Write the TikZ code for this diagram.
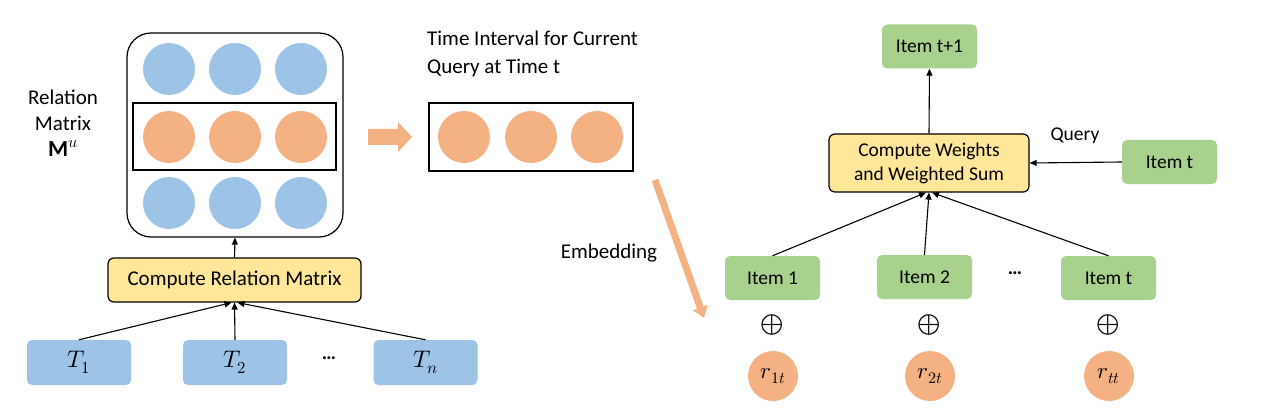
\documentclass[tikz,border=0pt]{standalone}
\usepackage{amsmath}
\usepackage{unicode-math}
\setmainfont{Carlito}
\setmathfont{Latin Modern Math}
\usetikzlibrary{arrows.meta,positioning}
\definecolor{cblue}{HTML}{9DC3E6}
\definecolor{corange}{HTML}{F4B183}
\definecolor{cgreen}{HTML}{A9D18E}
\definecolor{cyellow}{HTML}{FFE699}
\tikzset{
  txt/.style={font=\fontsize{21}{25}\selectfont, inner sep=0pt},
  bcirc/.style={circle, fill=cblue, minimum size=52pt, inner sep=0pt},
  ocirc/.style={circle, fill=corange, minimum size=52pt, inner sep=0pt},
  tbox/.style={rectangle, rounded corners=5pt, fill=cblue, minimum width=104pt, minimum height=45pt, inner sep=0pt, font=\fontsize{24}{26}\selectfont},
  gbox/.style={rectangle, rounded corners=5pt, fill=cgreen, minimum width=95pt, minimum height=44pt, inner sep=0pt, font=\fontsize{19.5}{23}\selectfont},
  ybox/.style={rectangle, rounded corners=6pt, draw=black, line width=1.2pt, fill=cyellow, inner sep=0pt, align=center},
  rcirc/.style={circle, fill=corange, minimum size=50pt, inner sep=0pt, font=\fontsize{23}{26}\selectfont},
  dots/.style={inner sep=0pt, font=\fontsize{20}{22}\selectfont\bfseries},
  conn/.style={line width=1.1pt, -{Triangle[length=7pt,width=6pt]}},
}
\begin{document}
\begin{tikzpicture}[x=1pt,y=-1pt]
\useasboundingbox (0,0) rectangle (1266,417);
% relation matrix
\node[draw=black, line width=1.2pt, rounded corners=24pt, minimum width=216pt, minimum height=204pt, inner sep=0pt] (mat) at (235,135) {};
\node[draw=black, line width=1.2pt, minimum width=203pt, minimum height=67pt, inner sep=0pt] (row) at (234.5,136.5) {};
\foreach \x/\n in {169/a,235/b,301/c}{
  \node[bcirc] (t\n) at (\x,69) {};
  \node[ocirc] (m\n) at (\x,137) {};
  \node[bcirc] (b\n) at (\x,203) {};
}
\node[txt, align=center] (rlab) at (63,123) {Relation\\[1pt]Matrix\\[1pt]{\fontsize{23}{25}\selectfont$\mathbf{M}^{u}$}};
% compute relation matrix
\node[ybox, minimum width=253pt, minimum height=44pt, font=\fontsize{21}{25}\selectfont] (crm) at (234.5,280) {Compute Relation Matrix};
\draw[conn] (crm.north) -- (mat.south);
\node[tbox] (T1) at (79,362.5) {$T_1$};
\node[tbox] (T2) at (235,362.5) {$T_2$};
\node[tbox] (Tn) at (425.5,362.5) {$T_n$};
\node[dots] (dl) at (329,358) {…};
\draw[conn] (T1.north) -- ([xshift=-3pt]crm.south);
\draw[conn] (T2.north) -- (crm.south);
\draw[conn] (Tn.north) -- ([xshift=3pt]crm.south);
% fat arrow
\fill[corange] (368,129) -- (398,129) -- (398,122) -- (412,137) -- (398,152) -- (398,145) -- (368,145) -- cycle;
% time interval
\node[txt, align=left, anchor=west] (tlab) at (427,54) {Time Interval for Current\\[3pt]Query at Time t};
\node[draw=black, line width=1.2pt, minimum width=204pt, minimum height=68pt, inner sep=0pt] (ti) at (531,137) {};
\node[ocirc] (qa) at (464,137) {};
\node[ocirc] (qb) at (531,137) {};
\node[ocirc] (qc) at (597,137) {};
% embedding
\coordinate (e1) at (655,180);
\coordinate (e2) at (704,318);
\draw[corange, line width=7pt, -{Triangle[length=11pt,width=15pt]}] (e1) -- (e2);
\node[txt] (emb) at (609,253) {Embedding};
% right part
\node[gbox] (it1p) at (929.5,46.5) {Item t+1};
\node[ybox, minimum width=200pt, minimum height=58pt, font=\fontsize{19.5}{24}\selectfont] (cw) at (929,163) {Compute Weights\\and Weighted Sum};
\draw[conn] (cw.north) -- (it1p.south);
\node[gbox] (itq) at (1169.5,162) {Item t};
\draw[conn] (itq.west) -- (cw.east);
\node[txt, font=\fontsize{19.5}{23}\selectfont] (qlab) at (1075,136) {Query};
\node[gbox] (i1) at (772.5,278) {Item 1};
\node[gbox] (i2) at (924.5,277) {Item 2};
\node[gbox] (it) at (1108.5,278) {Item t};
\node[dots] (dr) at (1015,273) {…};
\draw[conn] (i1.north) -- ([xshift=-3pt]cw.south);
\draw[conn] (i2.north) -- (cw.south);
\draw[conn] (it.north) -- ([xshift=3pt]cw.south);
\foreach \x/\n in {772/1,929/2,1108/3}{
  \node[inner sep=0pt, font=\fontsize{30}{30}\selectfont] (p\n) at (\x,325) {$\oplus$};
}
\node[rcirc] (r1) at (773,376) {$r_{1t}$};
\node[rcirc] (r2) at (930,376) {$r_{2t}$};
\node[rcirc] (r3) at (1109,376) {$r_{tt}$};
\end{tikzpicture}
\end{document}
